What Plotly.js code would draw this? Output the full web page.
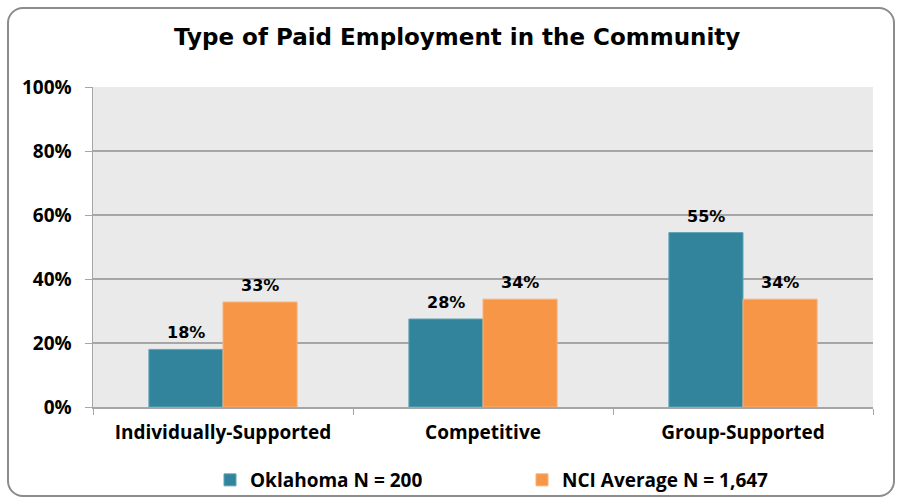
<!DOCTYPE html>
<html>
<head>
<meta charset="utf-8">
<script src="https://cdn.plot.ly/plotly-3.0.1.min.js"></script>
<style>
  html, body { margin: 0; padding: 0; background: #ffffff; }
  #wrap { position: relative; width: 900px; height: 501px; }
  #chart { width: 900px; height: 501px; }
  #frame { position: absolute; left: 7px; top: 7px; width: 888px; height: 490px;
           border: 2px solid #8c8c8c; border-radius: 16px; pointer-events: none; box-sizing: border-box; }
</style>
</head>
<body>
<div id="wrap">
  <div id="chart"></div>
  <div id="frame"></div>
</div>
<script>
const categories = ["Individually-Supported", "Competitive", "Group-Supported"];
const oklahomaValues = [0.18, 0.275, 0.545];
const nciValues = [0.328, 0.337, 0.337];
const oklahomaLabels = ["18%", "28%", "55%"];
const nciLabels = ["33%", "34%", "34%"];
const seriesNames = ["Oklahoma N = 200", "NCI Average N = 1,647"];
const yTickVals = [0, 0.2, 0.4, 0.6, 0.8, 1.0];
const yTickText = ["0%", "20%", "40%", "60%", "80%", "100%"];

const labelFont = { family: "DejaVu Sans", size: 16, color: "#000000", weight: "bold" };
const axisFont = { family: "Open Sans", size: 19, color: "#000000", weight: "bold" };
const BARGAP = 0.43;
const halfBar = (1 - BARGAP) / 4;

const traces = [
  {
    type: "bar", name: seriesNames[0], x: categories, y: oklahomaValues,
    marker: { color: "#31849B", line: { color: "#5fa3b5", width: 1 } },
    hoverinfo: "skip"
  },
  {
    type: "bar", name: seriesNames[1], x: categories, y: nciValues,
    marker: { color: "#F79646", line: { color: "#f9b27a", width: 1 } },
    hoverinfo: "skip"
  }
];

const annotations = [];
categories.forEach((c, i) => {
  annotations.push({ x: i - halfBar, y: oklahomaValues[i], xref: "x", yref: "y",
    text: oklahomaLabels[i], showarrow: false, yanchor: "bottom", yshift: 5, font: labelFont });
  annotations.push({ x: i + halfBar, y: nciValues[i], xref: "x", yref: "y",
    text: nciLabels[i], showarrow: false, yanchor: "bottom", yshift: 5, font: labelFont });
});

const layout = {
  width: 900, height: 501,
  margin: { l: 93, r: 27, t: 87, b: 94 },
  paper_bgcolor: "rgba(0,0,0,0)",
  plot_bgcolor: "#eaeaea",
  barmode: "group",
  bargap: BARGAP,
  bargroupgap: 0,
  showlegend: true,
  annotations: annotations,
  title: {
    text: "Type of Paid Employment in the Community",
    font: { family: "DejaVu Sans", size: 23, color: "#000000", weight: "bold" },
    x: 0.508, xanchor: "center", y: 1 - 37 / 501, yanchor: "middle", yref: "container"
  },
  xaxis: {
    type: "category",
    showline: true, linecolor: "#a6a6a6", linewidth: 1.5,
    ticks: "outside", tickson: "boundaries", ticklen: 6, tickcolor: "#a6a6a6",
    tickfont: axisFont, ticklabelstandoff: 8,
    showgrid: false, fixedrange: true
  },
  yaxis: {
    range: [0, 1],
    tickvals: yTickVals, ticktext: yTickText,
    showline: true, linecolor: "#a6a6a6", linewidth: 1.5,
    ticks: "outside", ticklen: 7, tickcolor: "#a6a6a6",
    tickfont: axisFont, ticklabelstandoff: 9,
    showgrid: true, gridcolor: "#a6a6a6", gridwidth: 1.2,
    zeroline: false, fixedrange: true
  },
  legend: {
    orientation: "h",
    x: (210 - 93) / 780, xanchor: "left",
    y: 1 - 480 / 501, yref: "container", yanchor: "middle",
    entrywidth: 267, entrywidthmode: "pixels",
    font: axisFont,
    itemwidth: 30, traceorder: "normal"
  }
};

Plotly.newPlot("chart", traces, layout, { displayModeBar: false, staticPlot: true });
</script>
</body>
</html>
